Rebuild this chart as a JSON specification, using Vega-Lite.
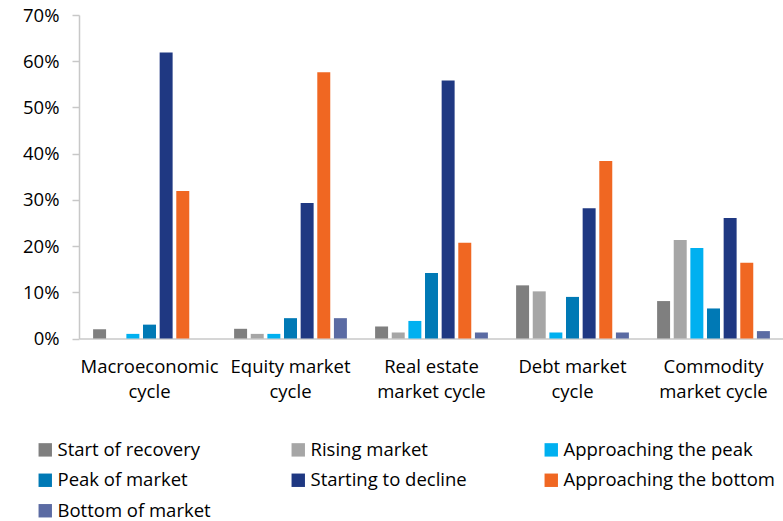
{
  "$schema": "https://vega.github.io/schema/vega-lite/v6.json",
  "width": 705,
  "height": 323.5,
  "autosize": {"type": "none"},
  "padding": {"left": 79, "top": 15, "right": 0, "bottom": 182.5},
  "background": "white",
  "config": {
    "view": {"stroke": null},
    "font": "Open Sans, sans-serif",
    "axis": {"labelFont": "Open Sans, sans-serif", "labelColor": "#000000", "labelFontSize": 18.5},
    "legend": {"labelFont": "Open Sans, sans-serif", "labelColor": "#000000", "labelFontSize": 18.5}
  },
  "data": {
    "values": [
      {"cycle": "Macroeconomic|cycle", "phase": "Start of recovery", "value": 0.020},
      {"cycle": "Macroeconomic|cycle", "phase": "Rising market", "value": 0.0},
      {"cycle": "Macroeconomic|cycle", "phase": "Approaching the peak", "value": 0.010},
      {"cycle": "Macroeconomic|cycle", "phase": "Peak of market", "value": 0.030},
      {"cycle": "Macroeconomic|cycle", "phase": "Starting to decline", "value": 0.619},
      {"cycle": "Macroeconomic|cycle", "phase": "Approaching the bottom", "value": 0.319},
      {"cycle": "Macroeconomic|cycle", "phase": "Bottom of market", "value": 0.0},
      {"cycle": "Equity market|cycle", "phase": "Start of recovery", "value": 0.021},
      {"cycle": "Equity market|cycle", "phase": "Rising market", "value": 0.010},
      {"cycle": "Equity market|cycle", "phase": "Approaching the peak", "value": 0.010},
      {"cycle": "Equity market|cycle", "phase": "Peak of market", "value": 0.044},
      {"cycle": "Equity market|cycle", "phase": "Starting to decline", "value": 0.293},
      {"cycle": "Equity market|cycle", "phase": "Approaching the bottom", "value": 0.576},
      {"cycle": "Equity market|cycle", "phase": "Bottom of market", "value": 0.044},
      {"cycle": "Real estate|market cycle", "phase": "Start of recovery", "value": 0.026},
      {"cycle": "Real estate|market cycle", "phase": "Rising market", "value": 0.013},
      {"cycle": "Real estate|market cycle", "phase": "Approaching the peak", "value": 0.038},
      {"cycle": "Real estate|market cycle", "phase": "Peak of market", "value": 0.142},
      {"cycle": "Real estate|market cycle", "phase": "Starting to decline", "value": 0.558},
      {"cycle": "Real estate|market cycle", "phase": "Approaching the bottom", "value": 0.207},
      {"cycle": "Real estate|market cycle", "phase": "Bottom of market", "value": 0.013},
      {"cycle": "Debt market|cycle", "phase": "Start of recovery", "value": 0.115},
      {"cycle": "Debt market|cycle", "phase": "Rising market", "value": 0.102},
      {"cycle": "Debt market|cycle", "phase": "Approaching the peak", "value": 0.013},
      {"cycle": "Debt market|cycle", "phase": "Peak of market", "value": 0.090},
      {"cycle": "Debt market|cycle", "phase": "Starting to decline", "value": 0.282},
      {"cycle": "Debt market|cycle", "phase": "Approaching the bottom", "value": 0.384},
      {"cycle": "Debt market|cycle", "phase": "Bottom of market", "value": 0.013},
      {"cycle": "Commodity|market cycle", "phase": "Start of recovery", "value": 0.081},
      {"cycle": "Commodity|market cycle", "phase": "Rising market", "value": 0.213},
      {"cycle": "Commodity|market cycle", "phase": "Approaching the peak", "value": 0.196},
      {"cycle": "Commodity|market cycle", "phase": "Peak of market", "value": 0.065},
      {"cycle": "Commodity|market cycle", "phase": "Starting to decline", "value": 0.261},
      {"cycle": "Commodity|market cycle", "phase": "Approaching the bottom", "value": 0.164},
      {"cycle": "Commodity|market cycle", "phase": "Bottom of market", "value": 0.016}
    ]
  },
  "mark": {"type": "bar"},
  "encoding": {
    "x": {
      "field": "cycle",
      "type": "nominal",
      "sort": ["Macroeconomic|cycle", "Equity market|cycle", "Real estate|market cycle", "Debt market|cycle", "Commodity|market cycle"],
      "scale": {"paddingInner": 0.2, "paddingOuter": 0.1},
      "axis": {
        "title": null,
        "labelAngle": 0,
        "labelExpr": "split(datum.label, '|')",
        "labelPadding": 19,
        "labelLineHeight": 25,
        "ticks": false,
        "domainColor": "#c8c8c8",
        "domainWidth": 1.5
      }
    },
    "xOffset": {
      "field": "phase",
      "type": "nominal",
      "sort": ["Start of recovery", "Rising market", "Approaching the peak", "Peak of market", "Starting to decline", "Approaching the bottom", "Bottom of market"],
      "scale": {"paddingInner": 0.22}
    },
    "y": {
      "field": "value",
      "type": "quantitative",
      "scale": {"domain": [0, 0.7]},
      "axis": {
        "title": null,
        "format": ".0%",
        "values": [0, 0.1, 0.2, 0.3, 0.4, 0.5, 0.6, 0.7],
        "grid": false,
        "domainColor": "#c8c8c8",
        "domainWidth": 1.5,
        "tickColor": "#c8c8c8",
        "tickSize": 7,
        "tickWidth": 1.5,
        "labelPadding": 13
      }
    },
    "color": {
      "field": "phase",
      "type": "nominal",
      "sort": ["Start of recovery", "Rising market", "Approaching the peak", "Peak of market", "Starting to decline", "Approaching the bottom", "Bottom of market"],
      "scale": {
        "domain": ["Start of recovery", "Rising market", "Approaching the peak", "Peak of market", "Starting to decline", "Approaching the bottom", "Bottom of market"],
        "range": ["#7f7f7f", "#a6a6a6", "#00b0f0", "#0079b5", "#1f3882", "#f06722", "#5b6ba3"]
      },
      "legend": {
        "title": null,
        "orient": "none",
        "legendX": -43,
        "legendY": 425.5,
        "direction": "horizontal",
        "columns": 3,
        "gridAlign": "all",
        "columnPadding": 20,
        "rowPadding": 11.5,
        "padding": 0,
        "symbolType": "square",
        "symbolSize": 180,
        "symbolStrokeWidth": 0,
        "labelOffset": 3,
        "labelLimit": 300
      }
    }
  }
}
